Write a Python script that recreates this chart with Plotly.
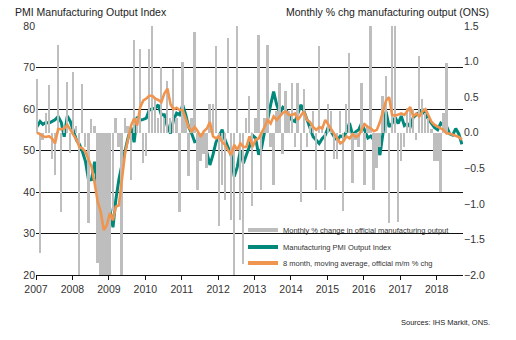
import pandas as pd
import plotly.graph_objects as go

# ---------------- data ----------------
months = pd.date_range("2007-01-01", "2018-09-01", freq="MS")

# ONS monthly % change in manufacturing output (right axis), Jan 2007 - May 2018
ons_mm = [
    0.76, -1.69, -0.10, 0.28, 0.67, -0.37, -0.59, 1.24, -1.12, 0.10, 0.71, -0.28,
    0.86, 0.10, -2.05, 0.68, -0.20, -1.27, 0.19, 0.09, -1.83, -2.40, -2.60, -2.50,
    -2.20, -1.10, 0.21, -0.20, -2.10, 0.21, 0.10, -0.66, 1.31, 0.20, 1.18, -0.42,
    -0.33, 1.18, 1.55, 0.50, 0.20, 0.92, 0.20, 0.73, 0.20, 0.90, 0.20, -1.12,
    1.00, 0.20, -0.61, 0.20, 1.42, -0.80, -0.40, -0.30, -0.50, 0.40, 0.40, 1.22,
    -1.31, -0.73, -0.94, 1.33, -1.22, -2.20, 1.55, -1.22, -1.85, 0.20, 0.52, -1.03,
    0.20, 1.37, -0.80, 0.20, 1.24, -0.20, -0.73, 0.30, 0.70, -0.30, 0.59, 0.30,
    0.70, -0.20, 0.70, -0.98, 0.61, -0.20, 0.10, 0.30, -0.80, 1.22, 0.10, -0.80,
    0.40, 0.30, -0.37, -0.37, 0.30, -1.10, 0.40, 1.12, -0.70, -0.10, -0.20, 0.70,
    -0.73, 0.10, 1.55, -0.80, -0.50, -0.20, 0.52, 0.80, -1.27, 1.55, 1.55, -1.25,
    -0.40, -0.20, 0.35, 0.35, 0.33, -0.10, 1.08, 0.47, 0.28, 0.20, 0.05, -0.40,
    -0.40, -0.84, 0.28, 0.98,
]

# Manufacturing PMI Output Index (left axis), Jan 2007 - Sep 2018
pmi_output = [
    55.7, 57.0, 56.3, 56.8, 56.6, 57.0, 57.4, 58.2, 56.8, 53.3, 58.3, 57.0,
    55.0, 52.5, 51.5, 49.7, 47.4, 42.9, 43.0, 47.3, 41.0, 38.5, 34.5, 35.5,
    35.8, 31.5, 38.0, 43.0, 46.5, 50.0, 53.0, 55.5, 52.0, 58.1, 57.3, 57.5,
    57.8, 59.8, 60.0, 60.2, 61.0, 58.6, 58.6, 55.7, 54.1, 57.3, 59.0, 58.6,
    61.0, 58.6, 55.7, 54.1, 52.1, 52.3, 51.3, 52.0, 49.5, 46.5, 49.0, 52.0,
    53.5, 55.0, 52.5, 50.5, 48.9, 43.7, 46.0, 50.0, 46.9, 49.0, 51.0, 53.7,
    53.0, 49.0, 50.5, 54.5, 57.3, 61.0, 64.2, 61.0, 59.0, 60.4, 59.8, 58.6,
    57.3, 57.0, 59.0, 61.0, 59.5, 57.3, 55.0, 53.3, 52.5, 51.7, 52.9, 53.7,
    55.7, 54.5, 53.3, 52.5, 53.5, 53.3, 54.5, 56.6, 53.7, 54.5, 55.0, 56.6,
    55.0, 53.0, 53.5, 52.5, 51.5, 48.9, 54.0, 59.4, 55.7, 56.5, 58.0, 56.5,
    58.3, 56.0, 56.5, 55.7, 58.0, 58.6, 59.4, 59.8, 58.6, 57.5, 56.5, 55.5,
    55.0, 56.6, 56.0, 55.8, 54.0, 53.7, 55.3, 54.0, 51.5,
]

# 8 month moving average, official m/m % chg (right axis)
ons_ma8 = [
    0.00, -0.02, -0.05, -0.06, -0.05, -0.08, -0.15, 0.05, 0.05, 0.06, 0.11, 0.04,
    -0.03, -0.10, -0.20, -0.22, -0.27, -0.38, -0.48, -0.71, -0.97, -1.11, -1.37, -1.30,
    -1.13, -1.23, -1.04, -1.02, -0.68, -0.30, -0.10, 0.10, 0.20, 0.10, 0.36, 0.45,
    0.48, 0.52, 0.52, 0.48, 0.46, 0.43, 0.55, 0.62, 0.40, 0.33, 0.35, 0.32,
    0.32, 0.18, 0.08, 0.02, 0.08, 0.02, -0.06, 0.02, 0.06, 0.15, -0.05, -0.08,
    -0.05, -0.13, -0.17, -0.25, -0.31, -0.17, -0.24, -0.15, -0.20, -0.20, -0.05, -0.20,
    -0.10, -0.08, -0.01, 0.08, 0.18, 0.13, 0.23, 0.18, 0.23, 0.28, 0.30, 0.25,
    0.25, 0.27, 0.18, 0.25, 0.30, 0.18, 0.15, 0.08, 0.04, 0.08, 0.06, 0.18,
    0.11, 0.04, -0.01, -0.08, -0.15, -0.12, -0.05, -0.08, -0.02, -0.06, -0.04, 0.05,
    0.12, 0.08, 0.06, 0.02, 0.04, 0.15, 0.30, 0.45, 0.50, 0.25, 0.24, 0.25,
    0.27, 0.25, 0.30, 0.36, 0.23, 0.27, 0.23, 0.30, 0.33, 0.25, 0.15, 0.11,
    0.08, 0.06, 0.04, -0.01, -0.01, -0.03, -0.05, -0.06, -0.10,
]

year_ticks = list(range(2007, 2019))
left_ticks = [20, 30, 40, 50, 60, 70, 80]
right_ticks = [-2.0, -1.5, -1.0, -0.5, 0.0, 0.5, 1.0, 1.5]

series_names = [
    "Monthly % change in official manufacturing output",
    "Manufacturing PMI Output Index",
    "8 month, moving average, official m/m % chg",
]

# ---------------- styling ----------------
FONT = "Liberation Sans, Arial, sans-serif"
GRAY = "#BEBEBE"
TEAL = "#00897B"
ORANGE = "#F0954F"
TXT = "#333333"

xdates = months + pd.Timedelta(days=10)
bar_dates = xdates[: len(ons_mm)]

fig = go.Figure()

fig.add_trace(go.Bar(
    x=bar_dates, y=ons_mm, yaxis="y2", marker=dict(color=GRAY, line=dict(width=0)),
    width=19 * 24 * 3600 * 1000, showlegend=False, name=series_names[0],
))
fig.add_trace(go.Scatter(
    x=xdates, y=pmi_output, yaxis="y", mode="lines",
    line=dict(color=TEAL, width=3), showlegend=False, name=series_names[1],
))
fig.add_trace(go.Scatter(
    x=xdates, y=ons_ma8, yaxis="y2", mode="lines",
    line=dict(color=ORANGE, width=2.6), showlegend=False, name=series_names[2],
))

# legend entries (one legend per row so the spacing can match)
legend_ids = ["legend", "legend2", "legend3"]
for nm, col, lg in zip(series_names, [GRAY, TEAL, ORANGE], legend_ids):
    fig.add_trace(go.Scatter(x=[None], y=[None], mode="lines", line=dict(color=col, width=4),
                             name=nm, legend=lg))

row_centers = [230, 247, 263]  # pixel rows of legend items
leg_common = dict(xanchor="left", yanchor="top", bgcolor="rgba(0,0,0,0)",
                  font=dict(size=7.5, color=TXT), itemwidth=30)
legends = {}
for lg, yc in zip(legend_ids, row_centers):
    legends[lg] = dict(x=(243 - 36) / 427, y=(275 - (yc - 14.5)) / 249, **leg_common)

fig.update_layout(
    width=516, height=340,
    margin=dict(l=36, r=53, t=26, b=65),
    paper_bgcolor="white", plot_bgcolor="white",
    font=dict(family=FONT, size=10.5, color=TXT),
    bargap=0,
    xaxis=dict(
        type="date",
        range=["2007-01-01", "2018-09-22"],
        tickvals=[pd.Timestamp(f"{y}-01-01") for y in year_ticks],
        ticktext=[str(y) for y in year_ticks],
        showgrid=False, showline=True, linecolor="#111111", linewidth=1,
        ticks="outside", ticklen=4, tickcolor="#111111",
        tickfont=dict(size=10.5, color=TXT), zeroline=False,
    ),
    yaxis=dict(
        range=[20, 80], tickvals=left_ticks, showgrid=True, gridcolor="#111111", gridwidth=1,
        zeroline=False, showline=False, ticks="", tickfont=dict(size=10.5, color=TXT),
    ),
    yaxis2=dict(
        range=[-2.0, 1.5], tickvals=right_ticks, tickformat=".1f", overlaying="y", side="right",
        showgrid=False, zeroline=False, showline=False, ticks="", tickfont=dict(size=10.5, color=TXT),
    ),
    annotations=[
        dict(text="PMI Manufacturing Output Index", xref="paper", yref="paper",
             x=(13 - 36) / 427, y=(275 - 12) / 249, xanchor="left", yanchor="middle",
             showarrow=False, font=dict(size=10.5, color="#222222")),
        dict(text="Monthly % chg manufacturing output (ONS)", xref="paper", yref="paper",
             x=(491 - 36) / 427, y=(275 - 12) / 249, xanchor="right", yanchor="middle",
             showarrow=False, font=dict(size=10.5, color="#222222")),
        dict(text="Sources: IHS Markit, ONS.", xref="paper", yref="paper",
             x=(492 - 36) / 427, y=(275 - 322) / 249, xanchor="right", yanchor="middle",
             showarrow=False, font=dict(size=7.5, color="#222222")),
    ],
    **legends,
)

fig.write_html("out.html")
